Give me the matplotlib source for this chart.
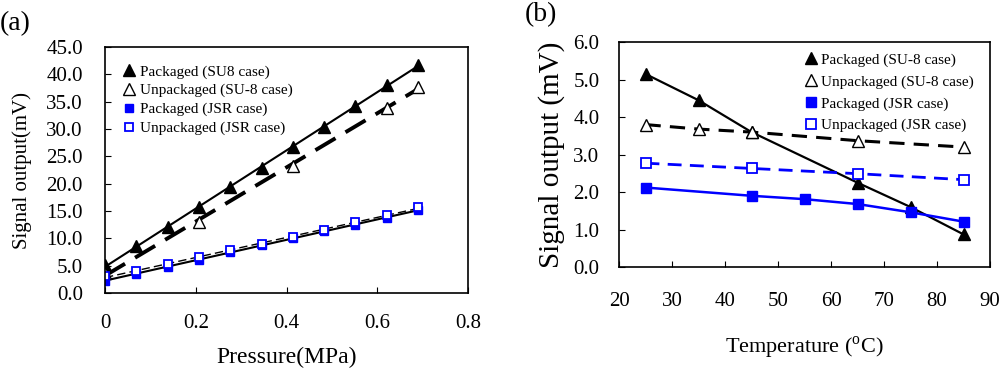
import numpy as np
import matplotlib
matplotlib.use('Agg')
import matplotlib.pyplot as plt

plt.rcParams['font.family'] = ['Liberation Serif', 'DejaVu Serif']
plt.rcParams['mathtext.fontset'] = 'custom'
plt.rcParams['mathtext.rm'] = 'Liberation Serif'

# (a) signal vs pressure
pressure = [0, 0.069, 0.138, 0.207, 0.276, 0.345, 0.414, 0.483, 0.552, 0.621, 0.69]
pkg_su8_a = [5.1, 8.5, 12.1, 15.8, 19.3, 22.9, 26.7, 30.4, 34.2, 38.0, 41.8]
unpkg_su8_p = [0, 0.207, 0.414, 0.621, 0.69]
unpkg_su8_a = [3.6, 13.0, 23.3, 33.9, 37.7]
pkg_jsr_a = [2.2, 3.5, 4.8, 6.1, 7.5, 8.8, 10.0, 11.3, 12.5, 13.8, 15.1]
unpkg_jsr_a = [3.1, 4.1, 5.3, 6.5, 7.8, 9.0, 10.3, 11.6, 12.9, 14.3, 15.7]

# (b) signal vs temperature
temp_su8 = [25, 35, 45, 65, 75, 85]
pkg_su8_b = [5.15, 4.45, 3.6, 2.25, 1.6, 0.87]
temp_unpkg_su8 = [25, 35, 45, 65, 85]
unpkg_su8_b = [3.8, 3.68, 3.6, 3.37, 3.2]
temp_pkg_jsr = [25, 45, 55, 65, 75, 85]
pkg_jsr_b = [2.12, 1.9, 1.81, 1.68, 1.46, 1.21]
temp_unpkg_jsr = [25, 45, 65, 85]
unpkg_jsr_b = [2.77, 2.63, 2.49, 2.33]

BLUE = '#0000ff'

fig = plt.figure(figsize=(10, 3.68), dpi=100)
ax1 = fig.add_axes([0.105, 0.204, 0.363, 0.668])
ax2 = fig.add_axes([0.619, 0.2745, 0.371, 0.611])


def fit_line(ax, x, y, **kw):
    # straight trend line through the points
    k, b = np.polyfit(x, y, 1)
    xs = np.array([min(x), max(x)])
    ax.plot(xs, k * xs + b, **kw)


# panel (a)
fit_line(ax1, pressure, pkg_su8_a, color='black', lw=1.5)
fit_line(ax1, unpkg_su8_p, unpkg_su8_a, color='black', lw=2.8, dashes=(6, 3))
fit_line(ax1, pressure, pkg_jsr_a, color='black', lw=1.5)
fit_line(ax1, pressure, unpkg_jsr_a, color='black', lw=1.0, dashes=(6, 3))
ax1.plot(pressure, pkg_su8_a, '^', color='black', ms=9, ls='none', label='Packaged (SU8 case)')
ax1.plot(unpkg_su8_p, unpkg_su8_a, '^', mfc='white', mec='black', ms=9, ls='none',
         label='Unpackaged (SU-8 case)')
ax1.plot(pressure, pkg_jsr_a, 's', color=BLUE, ms=6, ls='none', label='Packaged (JSR case)')
ax1.plot(pressure, unpkg_jsr_a, 's', mfc='white', mec=BLUE, mew=1.3, ms=6, ls='none',
         label='Unpackaged (JSR case)')

ax1.set_xlim(0, 0.8)
ax1.set_ylim(0, 45)
ax1.set_xticks([0, 0.2, 0.4, 0.6, 0.8])
ax1.set_xticklabels(['0', '0.2', '0.4', '0.6', '0.8'])
ax1.set_yticks(np.arange(0, 46, 5))
ax1.set_yticklabels([f'{v:.1f}' for v in np.arange(0, 46, 5)])
ax1.tick_params(axis='x', direction='in', length=4, pad=15, labelsize=15)
ax1.tick_params(axis='y', direction='in', length=4, pad=16, labelsize=15)
ax1.set_xlabel('Pressure(MPa)', fontsize=17, labelpad=10)
ax1.set_ylabel('Signal output(mV)', fontsize=15, labelpad=10)
leg1 = ax1.legend(loc='upper left', frameon=False, fontsize=11, handlelength=0.8,
                  handletextpad=0.3, labelspacing=0.33, borderpad=0.9, borderaxespad=0.3,
                  bbox_to_anchor=(0.0, 1.003))
for line in leg1.get_lines():
    line.set_linestyle('none')

# panel (b)
ax2.plot(temp_su8, pkg_su8_b, '-^', color='black', ms=9, lw=1.6, label='Packaged (SU-8 case)')
ax2.plot(temp_unpkg_su8, unpkg_su8_b, '^', mfc='white', mec='black', ms=9,
         ls=(0, (5, 3)), color='black', lw=2.2, label='Unpackaged (SU-8 case)')
ax2.plot(temp_pkg_jsr, pkg_jsr_b, '-s', color=BLUE, ms=7.5, lw=1.8, label='Packaged (JSR case)')
ax2.plot(temp_unpkg_jsr, unpkg_jsr_b, 's', mfc='white', mec=BLUE, mew=1.3, ms=7.5,
         ls=(0, (5, 3)), color=BLUE, lw=2.0, label='Unpackaged (JSR case)')

ax2.set_xlim(20, 90)
ax2.set_ylim(0, 6)
ax2.set_xticks(np.arange(20, 91, 10))
ax2.set_yticks(np.arange(0, 6.1, 1))
ax2.set_yticklabels([f'{v:.1f}' for v in np.arange(0, 6.1, 1)])
ax2.tick_params(axis='x', direction='in', length=4, pad=18, labelsize=15)
ax2.tick_params(axis='y', direction='in', length=4, pad=14, labelsize=15)
ax2.set_xlabel('Temperature ($^{\\rm o}$C)', fontsize=16, labelpad=17)
ax2.set_ylabel('Signal output (mV)', fontsize=21, labelpad=6)
leg2 = ax2.legend(loc='upper right', frameon=False, fontsize=11, handlelength=0.8,
                  handletextpad=0.3, labelspacing=0.52, borderpad=0.3, borderaxespad=0.2,
                  bbox_to_anchor=(0.978, 0.985))
for line in leg2.get_lines():
    line.set_linestyle('none')

for ax in (ax1, ax2):
    for s in ax.spines.values():
        s.set_linewidth(1.2)

fig.text(0.0, 0.97, '(a)', fontsize=20, va='top')
fig.text(0.525, 0.995, '(b)', fontsize=20, va='top')

fig.savefig('out.png', dpi=100)
